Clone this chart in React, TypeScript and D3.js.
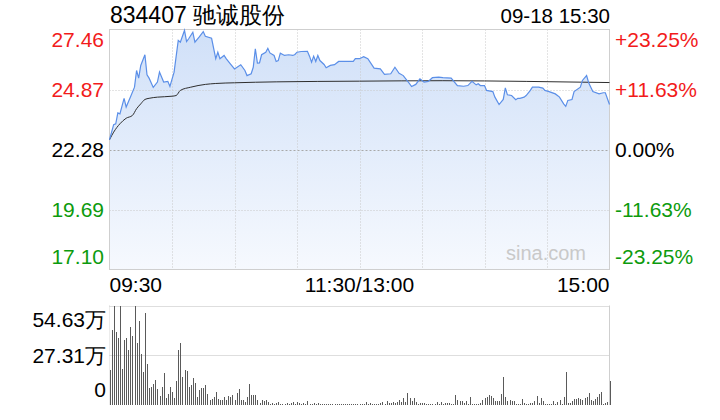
import React, { useEffect, useRef } from 'react';
import * as d3 from 'd3';

const title = '834407 驰诚股份';
const stamp = '09-18 15:30';
const preClose = 22.28;
const priceTicks = [27.46, 24.87, 22.28, 19.69, 17.1];
const pctTicks = ['+23.25%', '+11.63%', '0.00%', '-11.63%', '-23.25%'];
const timeLabels = ['09:30', '11:30/13:00', '15:00'];
const volTicks = [54.63, 27.31, 0];
const volTickLabels = ['54.63万', '27.31万', '0'];

// minutes since 09:30 (lunch break removed) and last price
const priceMinutes = [
  0, 2, 3, 4, 5, 7, 8, 10, 12, 13, 14, 15, 17, 18, 19, 21, 23, 24, 26, 28, 29, 31, 33, 34, 36, 37, 38, 40, 41, 43,
  45, 46, 49, 51, 52, 53, 55, 56, 58, 60, 63, 65, 66, 68, 69, 70, 71, 72, 73, 75, 76, 77, 79, 80, 81, 82, 84, 86, 88, 89,
  90, 92, 95, 96, 97, 98, 99, 100, 101, 103, 104, 106, 108, 110, 113, 117, 118, 120, 122, 124, 127, 130, 132, 135, 136, 137, 139, 141, 144, 145,
  147, 149, 151, 153, 155, 158, 160, 164, 167, 170, 172, 174, 176, 177, 178, 180, 181, 184, 185, 187, 189, 190, 191, 193, 195, 196, 197, 199, 200, 202,
  203, 206, 208, 209, 211, 214, 216, 218, 219, 220, 222, 223, 226, 227, 229, 230, 232, 235, 237, 238, 240,
];
const prices = [
  22.7, 23.35, 23.39, 23.86, 23.82, 24.49, 24.11, 24.54, 24.97, 25.69, 25.36, 25.91, 26.37, 25.5, 25.36, 24.96, 25.19, 25.62, 25.19, 25.22, 25.0, 25.62, 26.99, 26.91, 27.42, 26.94, 27.06, 27.34, 26.91, 27.13,
  27.37, 27.17, 27.08, 26.2, 26.48, 26.2, 26.34, 26.2, 25.98, 25.76, 25.94, 25.69, 25.47, 25.55, 25.83, 26.63, 26.01, 26.02, 26.37, 26.48, 26.65, 26.45, 26.34, 26.08, 26.12, 26.44, 26.34, 26.37, 26.34, 26.38,
  26.48, 26.51, 26.52, 26.31, 26.05, 26.31, 26.08, 26.34, 26.12, 25.95, 25.81, 25.91, 25.94, 26.08, 26.08, 26.08, 26.2, 26.2, 26.29, 26.2, 25.79, 25.76, 25.52, 25.55, 25.69, 25.83, 25.57, 25.47, 25.12, 25.0,
  25.09, 25.33, 25.19, 25.22, 25.38, 25.4, 25.38, 25.36, 25.04, 25.01, 25.04, 25.22, 25.07, 25.12, 25.04, 25.04, 24.83, 24.78, 24.54, 24.22, 24.44, 24.94, 24.64, 24.61, 24.43, 24.49, 24.49, 24.54, 24.61, 24.83,
  24.97, 24.97, 24.93, 24.83, 24.78, 24.68, 24.54, 24.25, 24.14, 24.4, 24.44, 24.78, 24.97, 25.26, 25.47, 25.16, 24.78, 24.68, 24.73, 24.73, 24.22,
];

const avgMinutes = [0, 2, 5, 8, 11, 13, 15, 17, 19, 23, 30, 32, 34, 39, 46, 51, 60, 80, 120, 160, 200, 240];
const avgPrices = [22.7, 23.03, 23.39, 23.63, 23.75, 24.04, 24.25, 24.44, 24.49, 24.54, 24.58, 24.61, 24.83, 24.97, 25.09, 25.13, 25.16, 25.2, 25.23, 25.25, 25.22, 25.17];

// per-minute volume, 万股
const volumes = [
  19, 41, 54.63, 40, 37, 54.63, 20, 35.5, 37, 30, 43, 38, 54.63, 34, 46, 28, 18, 50.5, 22.5, 9.3,
  10, 11.5, 14, 9, 5, 10, 17.5, 4, 6, 10, 7, 4, 13.3, 30, 34, 15.5, 19, 18.6, 10, 11,
  14.8, 12, 4.5, 8, 9.5, 9.5, 11, 6, 3, 3.5, 4.5, 7.3, 3.5, 2.5, 2.5, 4.5, 2.5, 5, 4.5, 5.5,
  3, 6.5, 9, 2.5, 2.5, 1.5, 4.5, 11.5, 5.5, 5.5, 5.5, 2.5, 1, 3, 2, 3, 1.5, 0.8, 1.2, 0.6,
  0.9, 1.5, 0.5, 0.7, 0.4, 0.9, 0.6, 1.1, 1.8, 0.8, 1.4, 0.9, 0.6, 1.0, 0.4, 2.2, 0.7, 0.5, 1.3, 0.6,
  0.9, 0.4, 0.5, 0.3, 0.6, 0.4, 0.5, 0.3, 0.4, 0.6, 0.3, 0.5, 0.4, 0.3, 0.5, 0.4, 0.6, 0.3, 0.4, 0.5,
  0.3, 0.4, 0.5, 1.6, 0.6, 1.2, 0.5, 0.8, 0.6, 0.4, 0.9, 1.8, 0.7, 2.2, 1.2, 1.2, 1.4, 1.2, 1.6, 2.7,
  1.4, 3.6, 1.8, 6.7, 3.6, 2.4, 3.6, 1.8, 0.8, 1.2, 1.1, 1.2, 0.6, 0.5, 0.4, 0.6, 0.5, 1.8, 0.6, 1.4,
  0.5, 1.2, 1.1, 1.2, 0.4, 0.6, 5.5, 2.7, 2.2, 2.2, 1.2, 2.2, 0.8, 4.6, 0.5, 0.5, 0.4, 0.5, 1.2, 3,
  3.6, 4.2, 5.5, 4.9, 3.6, 2.2, 2.2, 2.2, 6, 15.1, 4.6, 2.2, 2.7, 2.2, 2.2, 0.8, 0.5, 0.8, 3.3, 1.2,
  0.8, 0.8, 1.2, 1.2, 2.2, 4.9, 1.2, 3.6, 2.2, 0.8, 0.8, 0.8, 0.5, 2.2, 0.5, 1.6, 2.7, 0.6, 4.6, 18.2,
  1.2, 1.2, 2.2, 3.1, 3.3, 3.6, 3.5, 2.7, 3.6, 4.6, 6.4, 2.7, 2.2, 3.3, 4.6, 6, 7.3, 0.8, 1, 1.5,
  13.3,
];

const RED = '#f21b1b';
const GREEN = '#0d9b0d';
const FONT = '"Liberation Sans", Arial, Helvetica, sans-serif';

const W = 720;
const H = 420;

const App: React.FC = () => {
  const ref = useRef<SVGSVGElement>(null);

  useEffect(() => {
    draw();
    //eslint-disable-next-line
  }, []);

  const draw = () => {
    const svg = d3.select(ref.current);
    svg.selectAll('*').remove();

    const left = 109.5, right = 609.5;
    const top = 29.5, bottom = 269.5;
    const vTop = 305.5, vBottom = 405;

    const x = d3.scaleLinear().domain([0, 240]).range([left, right]);
    const y = d3.scaleLinear().domain([17.1, 27.46]).range([bottom, top]);
    const yv = d3.scaleLinear().domain([0, 54.63]).range([vBottom, vTop]);

    const defs = svg.append('defs');
    const grad = defs.append('linearGradient')
      .attr('id', 'fillGrad')
      .attr('gradientUnits', 'userSpaceOnUse')
      .attr('x1', 0).attr('x2', 0)
      .attr('y1', top).attr('y2', bottom);
    grad.append('stop').attr('offset', 0).attr('stop-color', '#d0e0f8');
    grad.append('stop').attr('offset', 1).attr('stop-color', '#f6f9fe');

    // area under price
    const pts = priceMinutes.map((m, i) => ({ m, p: prices[i] }));
    const area = d3.area<{ m: number; p: number }>()
      .x(d => x(d.m))
      .y0(bottom)
      .y1(d => y(d.p));
    svg.append('path').datum(pts).attr('fill', 'url(#fillGrad)').attr('d', area);

    // grid
    const grid = svg.append('g');
    [24.87, 19.69].forEach(v => {
      grid.append('line')
        .attr('x1', left).attr('x2', right)
        .attr('y1', Math.round(y(v)) + 0.5).attr('y2', Math.round(y(v)) + 0.5)
        .attr('stroke', '#c8c8c8').attr('stroke-dasharray', '1,2');
    });
    grid.append('line')
      .attr('x1', left).attr('x2', right)
      .attr('y1', Math.round(y(preClose)) + 0.5).attr('y2', Math.round(y(preClose)) + 0.5)
      .attr('stroke', '#a8a8a8').attr('stroke-dasharray', '2,2');
    d3.range(30, 240, 30).forEach(m => {
      grid.append('line')
        .attr('x1', Math.round(x(m)) + 0.5).attr('x2', Math.round(x(m)) + 0.5)
        .attr('y1', top).attr('y2', bottom)
        .attr('stroke', '#c8c8c8').attr('stroke-dasharray', '1,2');
    });

    // frame
    svg.append('rect')
      .attr('x', left).attr('y', top)
      .attr('width', right - left).attr('height', bottom - top)
      .attr('fill', 'none').attr('stroke', '#cfcfcf');

    // average price line
    const avgPts = avgMinutes.map((m, i) => ({ m, p: avgPrices[i] }));
    const line = d3.line<{ m: number; p: number }>()
      .x(d => x(d.m))
      .y(d => y(d.p))
      .curve(d3.curveMonotoneX);
    svg.append('path').datum(avgPts)
      .attr('fill', 'none').attr('stroke', '#2e2e2e').attr('stroke-width', 1)
      .attr('d', line);

    // price line
    const pLine = d3.line<{ m: number; p: number }>()
      .x(d => x(d.m))
      .y(d => y(d.p));
    svg.append('path').datum(pts)
      .attr('fill', 'none').attr('stroke', '#5b8fe8').attr('stroke-width', 1.2)
      .attr('d', pLine);

    // watermark
    svg.append('text')
      .attr('x', 506).attr('y', 260)
      .attr('font-family', FONT).attr('font-size', 20)
      .attr('fill', '#c9c9c9')
      .text('sina.com');

    // left price labels, right percentage labels
    const labelY = (i: number, v: number) => {
      if (i === 0) return y(v) + 17;
      if (i === priceTicks.length - 1) return y(v) - 6;
      return y(v) + 7.5;
    };
    const colorFor = (v: number) => (v > preClose ? RED : v < preClose ? GREEN : '#000');
    priceTicks.forEach((v, i) => {
      svg.append('text')
        .attr('x', 104).attr('y', labelY(i, v))
        .attr('text-anchor', 'end')
        .attr('font-family', FONT).attr('font-size', 21)
        .attr('fill', colorFor(v))
        .text(v.toFixed(2));
      svg.append('text')
        .attr('x', 615).attr('y', labelY(i, v))
        .attr('font-family', FONT).attr('font-size', 21)
        .attr('fill', colorFor(v))
        .text(pctTicks[i]);
    });

    // header
    svg.append('text')
      .attr('x', 110).attr('y', 23)
      .attr('font-family', FONT).attr('font-size', 23)
      .attr('fill', '#000')
      .text(title);
    svg.append('text')
      .attr('x', 610).attr('y', 23)
      .attr('text-anchor', 'end')
      .attr('font-family', FONT).attr('font-size', 20.5)
      .attr('fill', '#000')
      .text(stamp);

    // time labels
    const anchors = ['start', 'middle', 'end'];
    const tx = [left, x(120), right];
    timeLabels.forEach((t, i) => {
      svg.append('text')
        .attr('x', tx[i]).attr('y', 292)
        .attr('text-anchor', anchors[i])
        .attr('font-family', FONT).attr('font-size', 21)
        .attr('fill', '#000')
        .text(t);
    });

    // volume panel grid
    const vg = svg.append('g');
    volTicks.slice(0, 2).forEach(v => {
      vg.append('line')
        .attr('x1', left).attr('x2', right)
        .attr('y1', Math.round(yv(v)) + 0.5).attr('y2', Math.round(yv(v)) + 0.5)
        .attr('stroke', '#bdbdbd').attr('stroke-dasharray', '1,1');
    });
    vg.append('line')
      .attr('x1', right).attr('x2', right)
      .attr('y1', vTop).attr('y2', vBottom)
      .attr('stroke', '#cfcfcf');
    vg.append('line')
      .attr('x1', left).attr('x2', left)
      .attr('y1', vTop).attr('y2', vBottom)
      .attr('stroke', '#d8d8d8').attr('stroke-dasharray', '1,1');

    // volume bars
    svg.append('g')
      .attr('shape-rendering', 'crispEdges')
      .selectAll('rect')
      .data(volumes)
      .enter().append('rect')
      .attr('x', (_, i) => Math.round(x(i)))
      .attr('y', d => Math.round(yv(d)))
      .attr('width', 1)
      .attr('height', d => Math.max(vBottom - Math.round(yv(d)), 1))
      .attr('fill', '#5a5a5a');

    // volume labels
    const vLabelY = [yv(volTicks[0]) + 21.5, yv(volTicks[1]) + 8, yv(volTicks[2]) - 8];
    volTickLabels.forEach((t, i) => {
      svg.append('text')
        .attr('x', 106).attr('y', vLabelY[i])
        .attr('text-anchor', 'end')
        .attr('font-family', FONT).attr('font-size', 21)
        .attr('fill', '#000')
        .text(t);
    });
  };

  return (
    <svg
      ref={ref}
      width={W}
      height={H}
      style={{ position: 'absolute', left: 0, top: 0, background: '#fff' }}
    ></svg>
  );
};

export default App;
